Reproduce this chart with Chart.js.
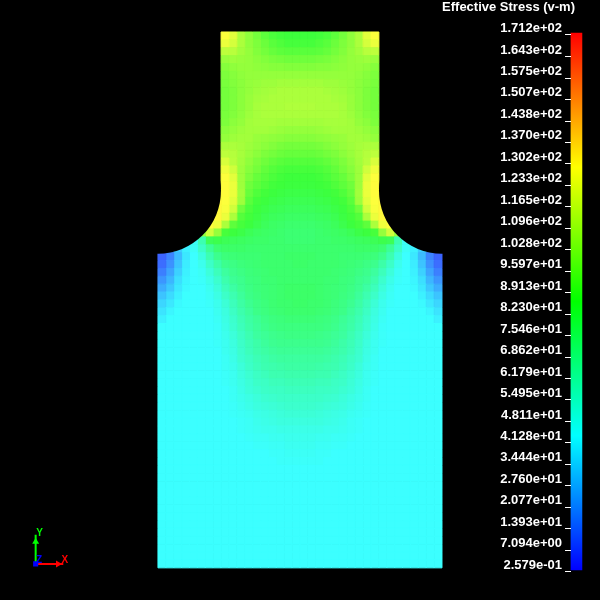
<!DOCTYPE html>
<html><head><meta charset="utf-8">
<style>html,body{margin:0;padding:0;background:#000}canvas{display:block}</style>
<script src="https://cdn.jsdelivr.net/npm/chart.js@4"></script>
</head><body><canvas id="c" width="600" height="600"></canvas>
<script>
const titleText = 'Effective Stress (v-m)';
const stressLabels = ['1.712e+02','1.643e+02','1.575e+02','1.507e+02','1.438e+02','1.370e+02','1.302e+02','1.233e+02','1.165e+02','1.096e+02','1.028e+02','9.597e+01','8.913e+01','8.230e+01','7.546e+01','6.862e+01','6.179e+01','5.495e+01','4.811e+01','4.128e+01','3.444e+01','2.760e+01','2.077e+01','1.393e+01','7.094e+00','2.579e-01'];
const stressRange = [0.8, 171.84];
const baseStress = 43;
const bodyStartRow = 28;
// half-section stress samples, centre line outward, top to bottom
const stressRows = [
[86,86,87,89,93,98,104,110,122,128],
[88,88,90,92,96,100,104,110,119,124],
[92,92,93,95,98,101,105,108,113,114],
[97,97,98,99,101,103,105,106,107,106],
[101,101,102,102,103,104,105,105,104,102],
[105,105,105,105,105,105,105,104,102,100],
[108,108,108,107,107,106,105,103,101,99],
[110,110,110,109,108,107,105,103,100,98],
[110,110,110,110,109,108,106,103,100,98],
[111,111,110,110,110,109,106,103,100,98],
[110,110,110,110,110,109,107,104,101,99],
[108,108,108,109,109,109,108,105,103,100],
[105,105,106,107,108,108,108,107,105,103],
[102,102,103,104,105,106,108,108,107,105],
[98,98,99,101,103,105,107,109,110,110],
[95,95,96,98,100,103,106,109,112,114],
[91,91,92,94,97,100,104,108,113,120],
[88,88,89,91,94,98,102,107,118,125],
[86,86,87,89,92,95,100,107,122,128],
[85,85,86,87,90,93,97,107,124,129],
[83,83,84,85,87,90,95,108,124,129,130],
[81,81,82,83,85,87,92,107,122,128,130],
[79,79,80,81,83,85,89,97,118,127,130],
[77,77,78,79,81,84,87,91,110,124,130],
[75,75,76,77,79,82,85,88,93,110,125,128],
[74,74,75,76,77,78,80,83,85,88,105,118,105],
[74,74,75,75,76,76,77,78,79,80,82,80,60,45],
[75,75,75,75,75,75,75,76,76,76,74,66,55,45,40,32],
[76,76,75,75,75,74,74,74,73,72,68,60,50,43,38,28,16,9],
[76,75,75,75,75,74,73,72,70,68,62,55,47,43,39,30,19,11],
[75,75,75,75,74,73,72,70,68,64,58,51,45,43,40,33,23,15],
[75,75,75,74,74,72,71,68,66,61,54,48,44,43,41,36,27,20],
[76,76,75,74,73,72,70,67,63,58,51,46,43,43,42,38,31,25],
[76,76,75,74,73,71,69,65,60,55,49,45,43,43,43,40,35,30],
[76,75,75,74,72,70,67,63,58,52,47,44,43,43,43,42,38,34],
[75,75,74,73,71,69,65,61,56,50,46,43,43,43,43,43,41,37],
[73,73,72,71,69,66,63,59,54,49,45,43,43,43,43,43,43,40],
[71,71,71,70,68,65,62,58,53,48,44],
[70,70,69,68,66,64,60,56,51,47,44],
[68,68,68,67,65,62,59,55,50,46,44],
[66,66,66,65,63,61,58,54,49,46],
[64,64,64,63,61,59,56,53,48,45],
[63,63,62,61,60,58,55,51,47,45],
[61,61,60,60,58,56,53,50,46,44],
[59,59,58,58,56,55,52,49,46,44],
[57,57,56,56,55,53,51,48,45],
[55,55,55,54,53,51,49,47,45],
[54,54,53,52,51,50,48,46,44],
[52,52,51,50,49,48,46,45,44],
[50,50,50,49,48,47,45,44],
[48,48,48,47,47,46,45,44],
[47,47,46,46,45,45,44],
[46,46,45,45,44,44],
[45,45,44,44],
[44,44,44],
[],[],[],[],[],[],[],[],[],[],[],[],[]
];
const bodyColumns = 18;
const filletCentres = [{x:-18,y:20.15},{x:18,y:20.15}];
const triadOrigin = {x:-33.5,y:67.5};
const triadXTip = {x:-30.0,y:67.5};
const triadYTip = {x:-33.5,y:63.8};
const barColours = ['#0000ff','#00ffff','#00ff00','#ffff00','#ff0000'];
const fieldColours = [[60,60,255],[60,255,255],[60,255,60],[255,255,60],[255,60,60]];
const stressMin = 0.2579, stressMax = 171.2;

function fieldColour(v){
  const t = Math.max(0,Math.min(0.9999,(v-stressMin)/(stressMax-stressMin)))*4;
  const i = Math.floor(t), f = t-i, a = fieldColours[i], b = fieldColours[i+1];
  return `rgb(${a.map((c,n)=>Math.round(c+(b[n]-c)*f)).join(',')})`;
}
const cells = [], cellColours = [];
stressRows.forEach((row,r)=>{
  const n = r>=bodyStartRow ? bodyColumns : row.length;
  for(let k=0;k<n;k++){
    const v = k<row.length ? row[k] : baseStress;
    [1,-1].forEach(s=>{cells.push({x:s*(k+0.5),y:r+0.5});cellColours.push(fieldColour(v));});
  }
});
const triadLetters = [
  {t:'X',x:-29.8,y:67.0,c:'#ff0000'},
  {t:'Y',x:-33.0,y:63.64,c:'#00ff00'},
  {t:'Z',x:-33.07,y:67.0,c:'#0000ff'}
];
const triadText = {id:'triadText',afterDatasetsDraw(ch){
  const g=ch.ctx;g.save();g.font='bold 10px "Liberation Sans"';g.textAlign='center';g.textBaseline='middle';
  triadLetters.forEach(l=>{g.fillStyle=l.c;g.fillText(l.t,ch.scales.x.getPixelForValue(l.x),ch.scales.yCell.getPixelForValue(l.y));});
  g.restore();
}};
new Chart(document.getElementById('c'),{
  type:'scatter',
  plugins:[triadText],
  data:{datasets:[
    {label:'triad-z',order:0,yAxisID:'yCell',data:[triadOrigin],pointStyle:'rect',pointRadius:3.6,backgroundColor:'#0000ff',borderWidth:0},
    {label:'triad-x',order:1,yAxisID:'yCell',showLine:true,data:[triadOrigin,triadXTip],borderColor:'#ff0000',borderWidth:2,pointRadius:0},
    {label:'triad-x-cone',order:1,yAxisID:'yCell',data:[{x:-30.67,y:67.5}],pointStyle:'triangle',rotation:90,pointRadius:4,backgroundColor:'#ff0000',borderWidth:0},
    {label:'triad-y',order:1,yAxisID:'yCell',showLine:true,data:[triadOrigin,triadYTip],borderColor:'#00ff00',borderWidth:2,pointRadius:0},
    {label:'triad-y-cone',order:1,yAxisID:'yCell',data:[{x:-33.5,y:64.7}],pointStyle:'triangle',pointRadius:4,backgroundColor:'#00ff00',borderWidth:0},
    {label:'fillet',order:2,yAxisID:'yCell',data:filletCentres,pointStyle:'circle',pointRadius:63,backgroundColor:'#000',borderWidth:0},
    {label:'Effective Stress',order:3,yAxisID:'yCell',data:cells,pointStyle:'rect',pointRadius:5.58,pointBackgroundColor:cellColours,pointBorderColor:cellColours,pointBorderWidth:1},
    {label:'colour bar',type:'bar',order:4,yAxisID:'yStress',clip:false,barThickness:11,data:[{x:35.04,y:stressRange}],
     backgroundColor(ctx){
       const ch=ctx.chart,s=ch.scales.yStress;
       if(!ch.chartArea||!s) return barColours[0];
       const g=ch.ctx.createLinearGradient(0,s.getPixelForValue(stressRange[1]),0,s.getPixelForValue(stressRange[0]));
       barColours.slice().reverse().forEach((c,i)=>g.addColorStop(i/4,c));
       return g;
     }}
  ]},
  options:{
    responsive:false,animation:false,devicePixelRatio:1,
    layout:{autoPadding:false,padding:{left:0,right:25,top:0,bottom:0}},
    plugins:{legend:{display:false},tooltip:{enabled:false},
      title:{display:true,text:titleText,align:'end',color:'#fff',font:{family:'"Liberation Sans"',size:13,weight:'bold',lineHeight:1.2},padding:{top:0,bottom:0.4}}},
    scales:{
      x:{type:'linear',display:false,offset:false,min:-38.02,max:33.59},
      yCell:{type:'linear',display:false,reverse:true,min:-2.03,max:71.47},
      yStress:{type:'linear',position:'right',min:-7.227,max:177.25,
        afterFit(s){s.width=10;},
        afterBuildTicks(s){s.ticks=stressLabels.map(l=>({value:parseFloat(l)}));},
        border:{display:false},
        grid:{drawOnChartArea:false,drawTicks:true,tickLength:6,tickWidth:1,color:'#fff',z:1},
        ticks:{z:1,mirror:true,padding:-3,autoSkip:false,labelOffset:-6.5,color:'#fff',
          font:{family:'"Liberation Sans"',size:13,weight:'bold'},
          callback(v,i){return stressLabels[i];}}
      }
    }
  }
});
</script></body></html>
